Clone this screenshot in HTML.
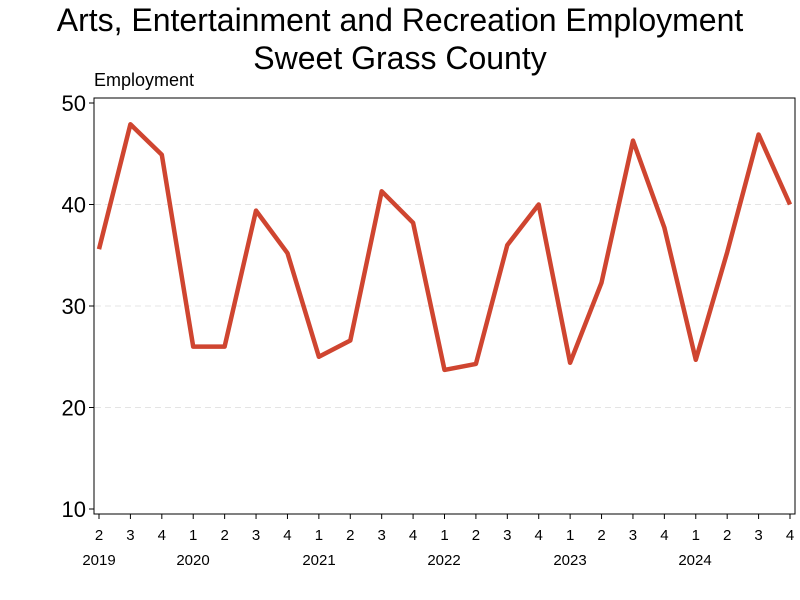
<!DOCTYPE html>
<html><head><meta charset="utf-8"><style>
body{margin:0;background:#fff;}
svg{display:block;font-family:"Liberation Sans",sans-serif;}
</style></head><body>
<svg id="chart" width="800" height="600">
<text x="400" y="31" font-size="32" text-anchor="middle">Arts, Entertainment and Recreation Employment</text>
<text x="400" y="69" font-size="32" text-anchor="middle">Sweet Grass County</text>
<text x="94" y="86" font-size="18">Employment</text>
<g id="grid"></g>
<rect x="94" y="98" width="701" height="416" fill="none" stroke="#000" stroke-width="1"/>
<g id="yaxis"></g><g id="xaxis"></g><g id="series"></g>
</svg>
<script>
const quarters=["2","3","4","1","2","3","4","1","2","3","4","1","2","3","4","1","2","3","4","1","2","3","4"];
const years=["2019","2020","2021","2022","2023","2024"];
const yearX=[99,193,319,444,570,695];
const values=[35.6,47.9,44.9,26,26,39.4,35.2,25,26.6,41.3,38.2,23.7,24.3,36,40,24.4,32.3,46.3,37.7,24.7,35.3,46.9,40];
const yTicks=[10,20,30,40,50];
const NS="http://www.w3.org/2000/svg";
function y(v){return 103+(50-v)*10.15;}
function x(i){return 99+i*(691/22);}
function mk(t,a,p){const e=document.createElementNS(NS,t);for(const k in a)e.setAttribute(k,a[k]);p.appendChild(e);return e;}
const grid=document.getElementById('grid'),ya=document.getElementById('yaxis'),xa=document.getElementById('xaxis'),se=document.getElementById('series');
yTicks.forEach(v=>{
 if(v>10&&v<50){const g=mk('line',{x1:95,x2:794,y1:y(v),y2:y(v),stroke:'#e4e4e4','stroke-dasharray':'6,4'},grid);
 
 }
 const tk=mk('line',{x1:89,x2:94,y1:y(v),y2:y(v),stroke:'#000'},ya);
 
 
 const t=mk('text',{x:86,y:y(v)+8,'font-size':22,'text-anchor':'end'},ya);t.textContent=v;
 
 
});
quarters.forEach((q,i)=>{
 const tk=mk('line',{x1:x(i),x2:x(i),y1:514,y2:519,stroke:'#000'},xa);
 
 
 const t=mk('text',{x:x(i),y:540,'font-size':15,'text-anchor':'middle'},xa);t.textContent=q;
 
 
});
years.forEach((yr,k)=>{
 const t=mk('text',{x:yearX[k],y:565,'font-size':15,'text-anchor':'middle'},xa);t.textContent=yr;
 
 
});
const pts=values.map((v,i)=>x(i).toFixed(1)+','+y(v).toFixed(1)).join(' ');
const pl=mk('polyline',{points:pts,fill:'none',stroke:'#cf4530','stroke-width':4.5,'stroke-linejoin':'round'},se);


</script>
</body></html>
